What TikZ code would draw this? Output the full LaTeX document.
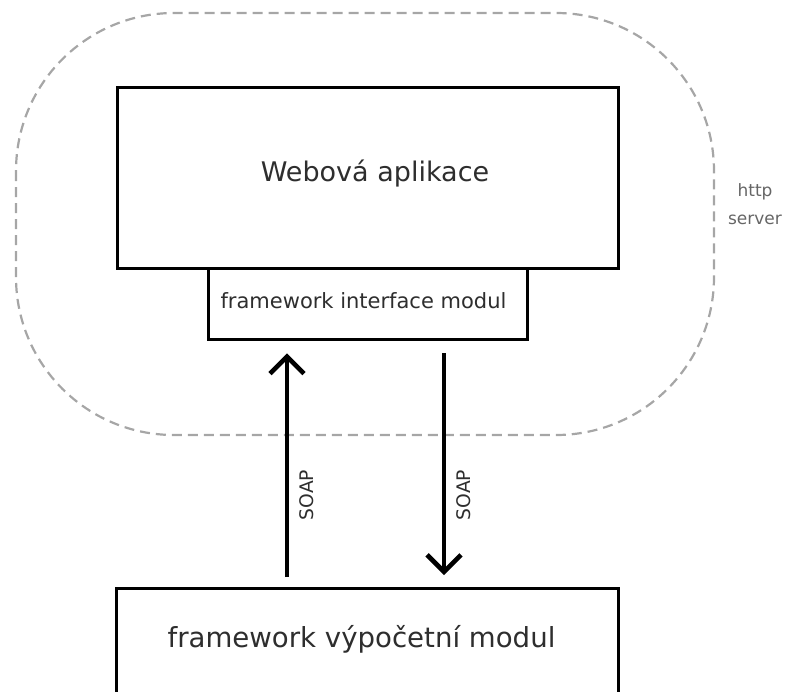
\documentclass[tikz,border=0pt]{standalone}
\usepackage{fontspec}
\setmainfont{DejaVu Sans}
\usetikzlibrary{arrows.meta,calc}
\begin{document}
\begin{tikzpicture}[x=1pt,y=-1pt,
  box/.style={draw=black,line width=3.4pt,fill=white,inner sep=0pt,anchor=north west},
  conn/.style={line width=4.6pt,-{Straight Barb[length=17pt,width=34pt,line width=4.6pt]}},
  txt/.style={text=black!82},
  label/.style={txt,font=\fontsize{18.7}{20}\selectfont}]
\clip (0,0) rectangle (790,691);
\useasboundingbox (0,0) rectangle (790,691);
% http server region
\draw[gray!70,line width=2.2pt,dash pattern=on 10pt off 6pt,rounded corners=158pt]
  (16,13) rectangle (714,435);
\node[align=center,text=black!60,font=\fontsize{17}{28}\selectfont] (srv) at (755,204) {http\\server};
% boxes
\node[box,minimum width=501pt,minimum height=181pt] (web) at (116,86) {};
\node[txt,font=\fontsize{27}{30}\selectfont] (webt) at (375,174) {Webová aplikace};
\node[box,minimum width=319pt,minimum height=71pt] (ifc) at (207,267) {};
\node[txt,font=\fontsize{21}{24}\selectfont] (ifct) at (363.5,301) {framework interface modul};
\node[box,minimum width=502pt,minimum height=160pt] (fw) at (115,587) {};
\node[txt,font=\fontsize{27.6}{32}\selectfont] (fwt) at (361.5,639) {framework výpočetní modul};
% connectors
\coordinate (u1) at ($(fw.north west)+(172,-10)$);
\coordinate (u2) at ($(ifc.south west)+(80,12)$);
\coordinate (d1) at ($(ifc.south west)+(237,12)$);
\coordinate (d2) at ($(fw.north west)+(329,-12)$);
\draw[conn] (u1) -- (u2);
\draw[conn] (d1) -- (d2);
\node[label,rotate=90] (s1) at (307,495) {SOAP};
\node[label,rotate=90] (s2) at (464,495) {SOAP};
\end{tikzpicture}
\end{document}
